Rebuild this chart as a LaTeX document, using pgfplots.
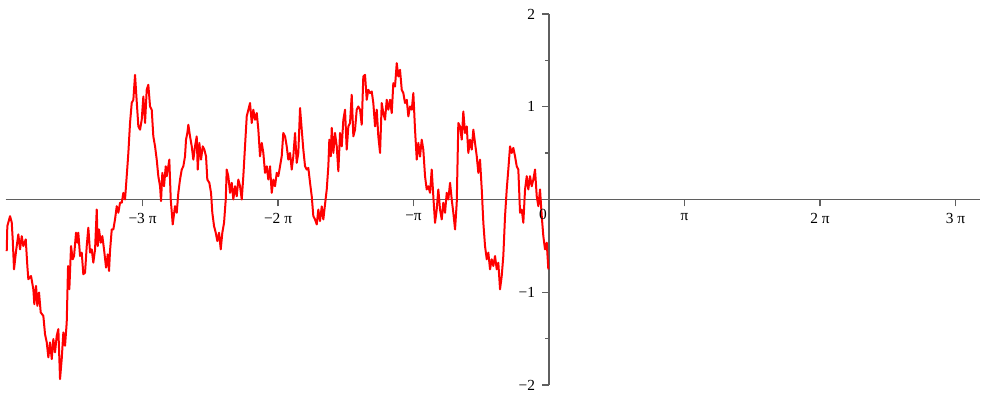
\documentclass[border=0pt]{standalone}
\usepackage{fontspec}
\setmainfont{Liberation Serif}
\usepackage{pgfplots}
\pgfplotsset{compat=1.18}
\definecolor{axgray}{RGB}{95,95,95}

\pgfplotstableread{
x y
-12.574 -0.556
-12.560 -0.287
-12.497 -0.180
-12.458 -0.247
-12.435 -0.430
-12.405 -0.753
-12.358 -0.556
-12.305 -0.376
-12.265 -0.538
-12.226 -0.395
-12.189 -0.502
-12.133 -0.430
-12.096 -0.717
-12.073 -0.860
-12.010 -0.825
-11.957 -0.968
-11.934 -1.129
-11.894 -0.932
-11.864 -1.147
-11.825 -1.003
-11.786 -1.218
-11.725 -1.255
-11.686 -1.452
-11.646 -1.541
-11.609 -1.702
-11.570 -1.541
-11.530 -1.720
-11.493 -1.505
-11.454 -1.648
-11.415 -1.470
-11.377 -1.398
-11.338 -1.936
-11.299 -1.720
-11.261 -1.433
-11.222 -1.577
-11.183 -1.326
-11.152 -0.717
-11.122 -0.968
-11.083 -0.502
-11.044 -0.645
-11.013 -0.610
-10.967 -0.358
-10.937 -0.466
-10.914 -0.358
-10.874 -0.610
-10.835 -0.573
-10.798 -0.806
-10.758 -0.788
-10.719 -0.502
-10.682 -0.304
-10.642 -0.573
-10.603 -0.538
-10.566 -0.681
-10.526 -0.538
-10.487 -0.108
-10.464 -0.502
-10.434 -0.323
-10.394 -0.466
-10.357 -0.395
-10.318 -0.538
-10.271 -0.734
-10.232 -0.591
-10.202 -0.771
-10.179 -0.556
-10.139 -0.323
-10.102 -0.323
-10.063 -0.215
-10.023 -0.072
-9.986 -0.143
-9.947 -0.035
-9.907 -0.035
-9.870 0.072
-9.831 0.000
-9.792 0.251
-9.754 0.502
-9.715 0.825
-9.676 1.040
-9.638 1.075
-9.599 1.344
-9.560 1.057
-9.522 0.788
-9.483 0.753
-9.444 0.860
-9.406 1.111
-9.367 0.825
-9.328 1.183
-9.291 1.237
-9.251 1.003
-9.212 0.968
-9.175 0.681
-9.135 0.573
-9.096 0.430
-9.059 0.251
-9.019 0.143
-8.996 -0.018
-8.966 0.287
-8.927 0.143
-8.887 0.358
-8.864 0.251
-8.827 0.358
-8.804 0.430
-8.771 0.000
-8.725 -0.269
-8.672 -0.072
-8.632 -0.143
-8.595 0.072
-8.556 0.215
-8.516 0.323
-8.479 0.358
-8.440 0.466
-8.417 0.645
-8.386 0.717
-8.363 0.806
-8.324 0.681
-8.284 0.573
-8.247 0.430
-8.208 0.573
-8.169 0.681
-8.145 0.323
-8.108 0.610
-8.069 0.430
-8.029 0.573
-7.992 0.538
-7.953 0.466
-7.923 0.215
-7.876 0.180
-7.837 0.072
-7.807 -0.143
-7.767 -0.287
-7.728 -0.358
-7.691 -0.448
-7.651 -0.358
-7.612 -0.538
-7.575 -0.358
-7.535 -0.251
-7.496 0.000
-7.473 0.323
-7.436 0.251
-7.396 0.072
-7.357 0.180
-7.320 0.000
-7.280 0.143
-7.241 0.035
-7.204 0.215
-7.164 0.143
-7.125 0.000
-7.088 0.251
-7.049 0.573
-7.009 0.896
-6.933 1.040
-6.893 0.825
-6.856 0.968
-6.817 0.860
-6.777 0.932
-6.740 0.753
-6.701 0.466
-6.661 0.610
-6.624 0.502
-6.585 0.287
-6.545 0.358
-6.508 0.215
-6.469 0.358
-6.430 0.072
-6.392 0.215
-6.353 0.143
-6.314 0.287
-6.276 0.251
-6.237 0.358
-6.198 0.466
-6.161 0.717
-6.121 0.681
-6.082 0.573
-6.045 0.430
-6.005 0.502
-5.966 0.323
-5.929 0.466
-5.889 0.717
-5.850 0.395
-5.813 0.502
-5.773 0.986
-5.734 0.753
-5.697 0.538
-5.657 0.358
-5.618 0.323
-5.581 0.341
-5.541 0.180
-5.502 0.035
-5.465 -0.180
-5.426 -0.215
-5.386 -0.269
-5.349 -0.108
-5.310 -0.233
-5.270 -0.075
-5.233 -0.215
-5.194 -0.054
-5.154 0.108
-5.117 0.358
-5.094 0.645
-5.061 0.466
-5.038 0.771
-5.001 0.502
-4.962 0.717
-4.922 0.573
-4.885 0.304
-4.846 0.717
-4.806 0.573
-4.769 0.860
-4.730 0.968
-4.691 0.538
-4.653 0.788
-4.614 0.825
-4.575 1.129
-4.537 0.681
-4.498 0.753
-4.459 0.968
-4.422 1.003
-4.382 0.968
-4.343 0.806
-4.306 1.326
-4.266 1.344
-4.227 1.075
-4.190 1.183
-4.150 1.147
-4.111 1.165
-4.074 1.040
-4.034 0.788
-3.995 0.968
-3.958 0.681
-3.918 0.502
-3.879 1.040
-3.842 0.932
-3.803 0.860
-3.763 1.075
-3.726 0.968
-3.687 1.075
-3.647 0.932
-3.610 1.255
-3.571 1.218
-3.531 1.470
-3.494 1.326
-3.455 1.398
-3.415 1.183
-3.378 1.147
-3.339 1.040
-3.299 1.075
-3.262 0.896
-3.223 1.003
-3.183 0.968
-3.146 1.147
-3.107 0.753
-3.067 0.430
-3.030 0.610
-2.991 0.462
-2.952 0.645
-2.915 0.538
-2.875 0.251
-2.836 0.108
-2.799 0.143
-2.759 0.072
-2.720 0.323
-2.683 0.035
-2.643 -0.251
-2.604 -0.108
-2.567 0.108
-2.527 -0.108
-2.488 -0.215
-2.451 -0.035
-2.411 -0.143
-2.372 0.072
-2.335 0.000
-2.295 0.180
-2.256 0.000
-2.219 -0.143
-2.179 -0.323
-2.140 -0.035
-2.103 0.825
-2.064 0.788
-2.024 0.645
-1.987 0.949
-1.948 0.717
-1.908 0.788
-1.871 0.502
-1.832 0.645
-1.792 0.538
-1.755 0.753
-1.716 0.610
-1.676 0.466
-1.639 0.287
-1.600 0.430
-1.560 0.108
-1.523 -0.251
-1.484 -0.502
-1.444 -0.645
-1.407 -0.573
-1.368 -0.753
-1.329 -0.645
-1.291 -0.717
-1.252 -0.610
-1.213 -0.753
-1.176 -0.681
-1.136 -0.968
-1.097 -0.825
-1.060 -0.610
-1.020 -0.180
-0.981 0.108
-0.944 0.323
-0.904 0.573
-0.865 0.502
-0.828 0.556
-0.788 0.466
-0.749 0.358
-0.712 0.323
-0.672 -0.143
-0.633 -0.108
-0.596 -0.251
-0.556 0.108
-0.517 0.251
-0.480 0.108
-0.441 0.251
-0.401 0.143
-0.364 0.215
-0.325 0.323
-0.285 0.035
-0.248 -0.072
-0.209 0.108
-0.169 -0.180
-0.132 -0.395
-0.093 -0.538
-0.053 -0.466
-0.016 -0.753
}\walk

\begin{document}
\begin{tikzpicture}
\begin{axis}[
  scale only axis, width=487.4pt, height=185.5pt,
  xmin=-12.6, xmax=10, ymin=-2, ymax=2,
  axis lines=middle,
  axis line style={-, axgray, line width=0.7pt},
  xtick={-9.42478,-6.28319,-3.14159,3.14159,6.28319,9.42478},
  xticklabels={−3 π,−2 π,−π,π,2 π,3 π},
  ytick={-2,-1,1,2}, yticklabels={−2,−1,1,2},
  minor ytick={-1.5,-0.5,0.5,1.5},
  tick align=outside, major tick length=3.5pt, minor tick length=2pt,
  tick style={axgray, line width=0.7pt},
  tick label style={font=\fontsize{7.7}{9}\selectfont},
  clip=false,
]
\addplot[red, line width=1pt, line join=round] table {\walk};
\node[font=\fontsize{7.7}{9}\selectfont] at (axis cs:-0.14,-0.16) {0};
\coordinate (bl) at (axis cs:-12.73,-2.162);
\coordinate (tr) at (axis cs:10.178,2.151);
\end{axis}
\pgfresetboundingbox
\path (bl) rectangle (tr);
\end{tikzpicture}
\end{document}
